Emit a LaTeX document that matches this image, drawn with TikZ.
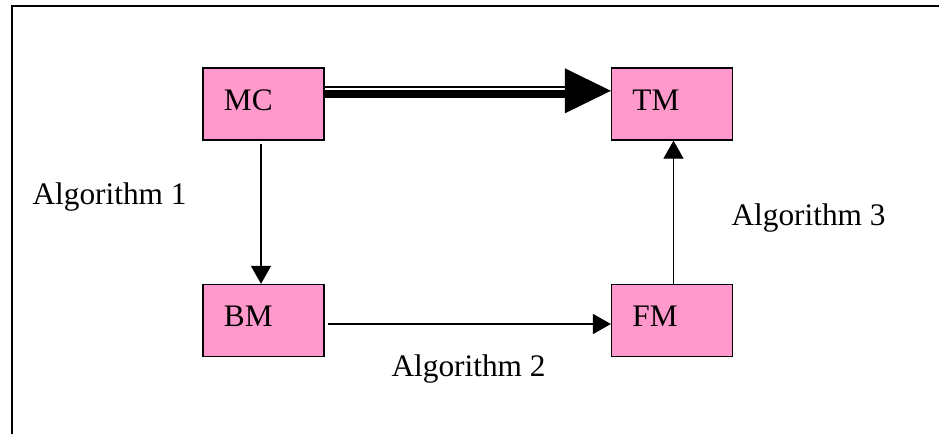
\documentclass[tikz,border=0pt]{standalone}
\usepackage{fontspec}
\setmainfont{Liberation Serif}
\usetikzlibrary{arrows.meta,calc}
\definecolor{boxpink}{RGB}{255,153,204}

\begin{document}
\begin{tikzpicture}[x=0.383pt,y=-0.383pt,>={Triangle[length=6.9pt,width=7.7pt]},
    block/.style={draw,fill=boxpink,line width=0.5pt,minimum width=46.3pt,minimum height=27.6pt,
        text width=30.3pt,inner xsep=8pt,align=left,text height=8pt,text depth=3.4pt,
        font=\fontsize{12}{14}\selectfont},
    algo/.style={anchor=base west,inner sep=0pt,font=\fontsize{12}{14}\selectfont}]
    \useasboundingbox (0,0) rectangle (939,434);

    % Frame
    \draw[line width=0.77pt] (939,5.7) -- (11.8,5.7) -- (11.8,434);

    % Blocks
    \node[block] (mc) at (263.5,104) {MC};
    \node[block] (tm) at (672,104) {TM};
    \node[block] (bm) at (263.5,320.5) {BM};
    \node[block] (fm) at (672,320.5) {FM};

    % Thick-thin arrow
    \draw[line width=2.9pt] ($(mc.north east)+(0,26.5)$) -- ($(tm.north west)+(-46,26.5)$);
    \draw[line width=0.9pt] ($(mc.north east)+(0,19.8)$) -- ($(tm.north west)+(-46,19.8)$);
    \fill ($(tm.north west)+(0,23.5)$) -- ++(-46,-22.5) -- ++(0,45) -- cycle;

    % Algorithm arrows
    \draw[->] ($(mc.south)+(-2.5,3)$) -- ($(bm.north)+(-2.5,0)$);
    \draw[->] ($(bm.east)+(3.5,3.5)$) -- ($(fm.west)+(0,3.5)$);
    \draw[->] ($(fm.north)+(1.5,0)$) -- ($(tm.south)+(1.5,0)$);

    % Labels
    \node[algo] (alg1) at (32,204) {Algorithm 1};
    \node[algo] (alg2) at (391,376) {Algorithm 2};
    \node[algo] (alg3) at (731,225) {Algorithm 3};
\end{tikzpicture}
\end{document}
